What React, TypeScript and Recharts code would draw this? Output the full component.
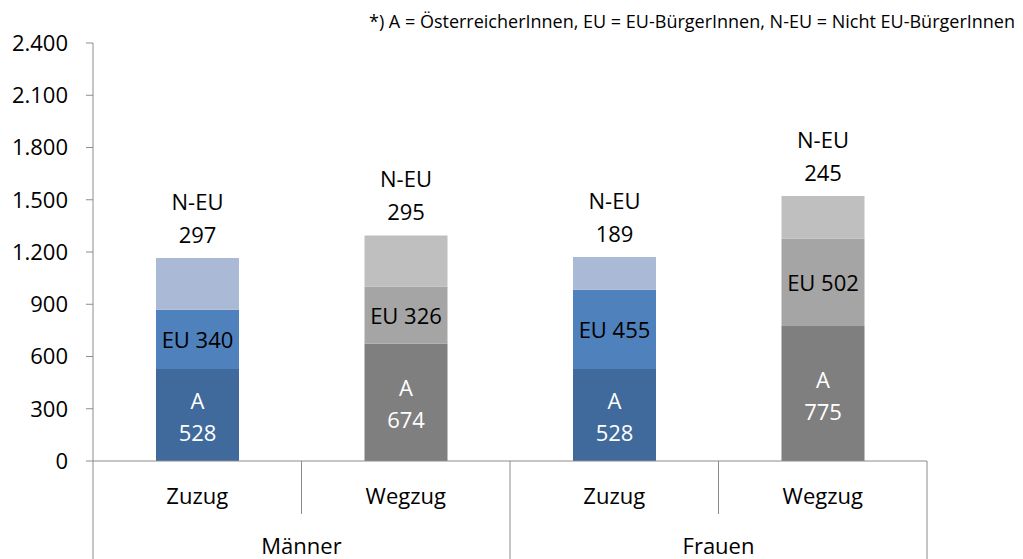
import { BarChart, Bar, XAxis, YAxis, Cell, LabelList } from 'recharts'

const categories = ['Zuzug', 'Wegzug', 'Zuzug', 'Wegzug']
const groups = ['Männer', 'Männer', 'Frauen', 'Frauen']
const aValues = [528, 674, 528, 775]
const euValues = [340, 326, 455, 502]
const neuValues = [297, 295, 189, 245]
const yTicks = [0, 300, 600, 900, 1200, 1500, 1800, 2100, 2400]
const note = '*) A = ÖsterreicherInnen, EU = EU-BürgerInnen, N-EU = Nicht EU-BürgerInnen'

const data = categories.map((cat, i) => ({
  key: `${groups[i]} ${cat}`,
  cat,
  group: groups[i],
  a: aValues[i],
  eu: euValues[i],
  neu: neuValues[i],
}))

// zuzug = blue, wegzug = grey
const aColors = ['#3F6A9B', '#7F7F7F']
const euColors = ['#4F81BD', '#A5A5A5']
const neuColors = ['#AAB9D6', '#BFBFBF']

const FONT = '"Open Sans", sans-serif'
const AXIS = '#8C8C8C'
const FS = 22

const fmt = (v: number) => v.toLocaleString('de-DE')

const CategoryTick = (props: any) => {
  const { x, y, index, payload } = props
  const half = payload?.offset || 104
  const row = data[index]
  const lastInGroup = index === data.length - 1 || data[index + 1].group !== row.group
  return (
    <g>
      <text x={x} y={y + 43} textAnchor="middle" fontSize={FS} fill="#000" fontFamily={FONT}>
        {row.cat}
      </text>
      {index === 0 && <line x1={x - half} x2={x - half} y1={y} y2={y + 98} stroke={AXIS} />}
      <line
        x1={x + half}
        x2={x + half}
        y1={y}
        y2={lastInGroup ? y + 98 : y + 53}
        stroke={AXIS}
      />
      {lastInGroup && (
        <text x={x - half} y={y + 93} textAnchor="middle" fontSize={FS} fill="#000" fontFamily={FONT}>
          {row.group}
        </text>
      )}
    </g>
  )
}

const ALabel = (props: any) => {
  const { x, y, width, height, value } = props
  const cx = x + width / 2
  const cy = y + height / 2
  return (
    <text textAnchor="middle" fontSize={FS} fill="#fff" fontFamily={FONT} dominantBaseline="central">
      <tspan x={cx} y={cy - 15}>A</tspan>
      <tspan x={cx} y={cy + 17}>{value}</tspan>
    </text>
  )
}

const EuLabel = (props: any) => {
  const { x, y, width, height, value } = props
  return (
    <text
      x={x + width / 2}
      y={y + height / 2}
      textAnchor="middle"
      fontSize={FS}
      fill="#000"
      fontFamily={FONT}
      dominantBaseline="central"
    >
      {`EU ${value}`}
    </text>
  )
}

const NeuLabel = (props: any) => {
  const { x, y, width, value } = props
  const cx = x + width / 2
  return (
    <text textAnchor="middle" fontSize={FS} fill="#000" fontFamily={FONT}>
      <tspan x={cx} y={y - 48}>N-EU</tspan>
      <tspan x={cx} y={y - 15}>{value}</tspan>
    </text>
  )
}

export default function App() {
  return (
    <div style={{ position: 'absolute', left: 0, top: 0, width: 1023, height: 559, background: '#fff' }}>
      <div
        style={{
          position: 'absolute',
          right: 8,
          top: 9,
          fontFamily: FONT,
          fontSize: 18,
          color: '#000',
          whiteSpace: 'nowrap',
        }}
      >
        {note}
      </div>
      <BarChart
        width={1023}
        height={559}
        data={data}
        margin={{ top: 43, right: 96, bottom: 0, left: 0 }}
        barSize={83}
      >
        <XAxis
          dataKey="key"
          height={98}
          tick={<CategoryTick />}
          tickLine={false}
          tickSize={0}
          tickMargin={0}
          axisLine={{ stroke: AXIS }}
          interval={0}
        />
        <YAxis
          width={93}
          domain={[0, 2400]}
          ticks={yTicks}
          tickFormatter={fmt}
          tickSize={7}
          tickMargin={18}
          axisLine={{ stroke: AXIS }}
          tickLine={{ stroke: AXIS }}
          tick={{ fontSize: FS, fill: '#000', fontFamily: FONT }}
          interval={0}
        />
        <Bar dataKey="a" stackId="s" isAnimationActive={false}>
          {data.map((_, i) => (
            <Cell key={i} fill={aColors[i % 2]} />
          ))}
          <LabelList dataKey="a" content={<ALabel />} />
        </Bar>
        <Bar dataKey="eu" stackId="s" isAnimationActive={false}>
          {data.map((_, i) => (
            <Cell key={i} fill={euColors[i % 2]} />
          ))}
          <LabelList dataKey="eu" content={<EuLabel />} />
        </Bar>
        <Bar dataKey="neu" stackId="s" isAnimationActive={false}>
          {data.map((_, i) => (
            <Cell key={i} fill={neuColors[i % 2]} />
          ))}
          <LabelList dataKey="neu" content={<NeuLabel />} />
        </Bar>
      </BarChart>
    </div>
  )
}
